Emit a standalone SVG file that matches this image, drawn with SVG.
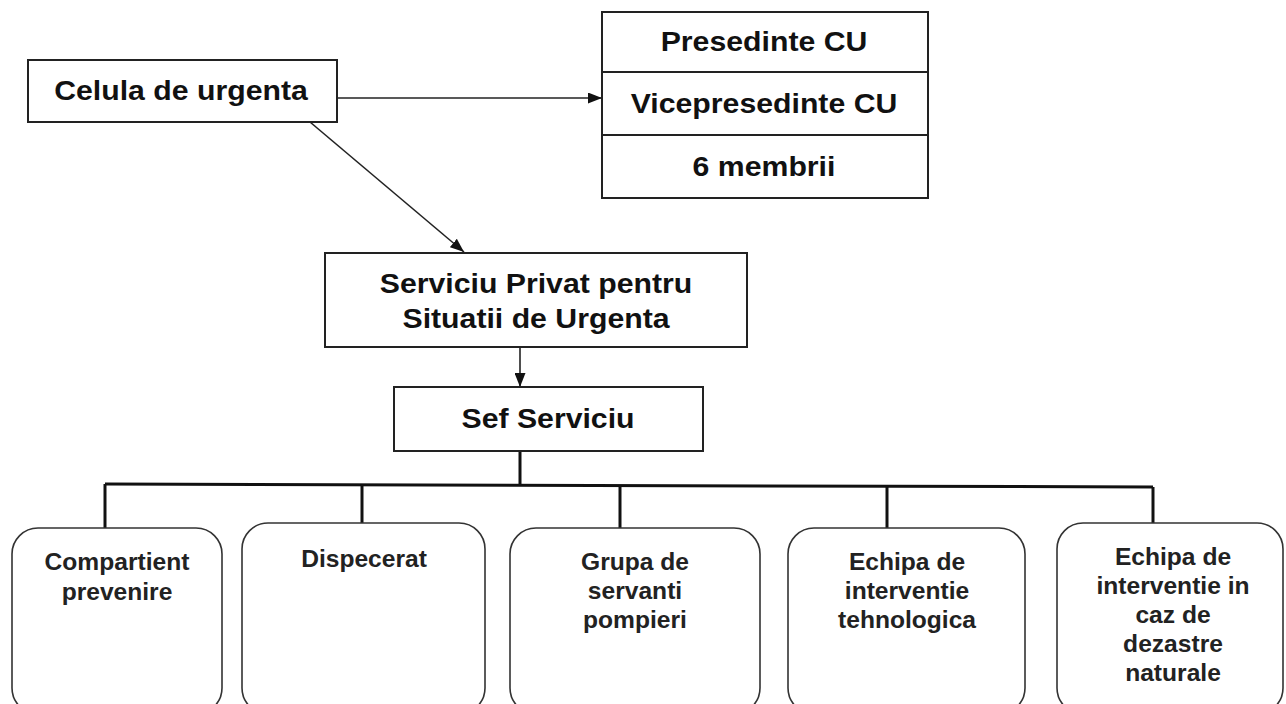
<svg xmlns="http://www.w3.org/2000/svg" width="1286" height="704" viewBox="0 0 1286 704">
<style>
.box{fill:#fff;stroke:#222;stroke-width:2}
.rbox{fill:#fff;stroke:#333;stroke-width:1.6}
.big{font-family:"Liberation Sans",Arial,sans-serif;font-weight:bold;font-size:27px;fill:#111;text-anchor:middle}
.sm{font-family:"Liberation Sans",Arial,sans-serif;font-weight:bold;font-size:23px;fill:#222;text-anchor:middle}
.ln{fill:none;stroke:#222;stroke-width:1.6}
.bus{fill:none;stroke:#111;stroke-width:3}
</style>
<defs>
<marker id="ah" viewBox="0 0 14 11" refX="14" refY="5.5" markerWidth="14" markerHeight="11" markerUnits="userSpaceOnUse" orient="auto">
<path d="M0,0 L14,5.5 L0,11 z" fill="#111"/>
</marker>
</defs>
<rect width="1286" height="704" fill="#fff"/>
<g id="connectors">
<path class="ln" d="M337,98 L602,98" marker-end="url(#ah)"/>
<path class="ln" d="M310,122 L464,252" marker-end="url(#ah)"/>
<path class="ln" d="M520,347 L520,387" marker-end="url(#ah)"/>
<path class="bus" d="M520,451 L520,485"/>
<path class="bus" d="M105,484 L1153,487"/>
<path class="bus" d="M105,484 L105,528"/>
<path class="bus" d="M362,485 L362,523"/>
<path class="bus" d="M620,485 L620,528"/>
<path class="bus" d="M887,486 L887,528"/>
<path class="bus" d="M1153,487 L1153,523"/>
</g>
<g id="celula">
<rect class="box" x="28" y="60" width="309" height="62"/>
<text class="big" transform="matrix(1.12 0 0 1 181 100)">Celula de urgenta</text>
</g>
<g id="cu">
<rect class="box" x="602" y="12" width="326" height="186"/>
<line class="ln" x1="602" y1="72" x2="928" y2="72" style="stroke-width:2"/>
<line class="ln" x1="602" y1="135" x2="928" y2="135" style="stroke-width:2"/>
<text class="big" transform="matrix(1.12 0 0 1 764 51)">Presedinte CU</text>
<text class="big" transform="matrix(1.12 0 0 1 764 113)">Vicepresedinte CU</text>
<text class="big" transform="matrix(1.12 0 0 1 764 176)">6 membrii</text>
</g>
<g id="serviciu">
<rect class="box" x="325" y="253" width="422" height="94"/>
<text class="big" transform="matrix(1.12 0 0 1 536 293)">Serviciu Privat pentru</text>
<text class="big" transform="matrix(1.12 0 0 1 536 328)">Situatii  de Urgenta</text>
</g>
<g id="sef">
<rect class="box" x="394" y="387" width="309" height="64"/>
<text class="big" transform="matrix(1.12 0 0 1 548 428)">Sef Serviciu</text>
</g>
<g id="compartient">
<rect class="rbox" x="12" y="528" width="210" height="186" rx="26"/>
<text class="sm" transform="matrix(1.07 0 0 1 117 570)">Compartient</text>
<text class="sm" transform="matrix(1.07 0 0 1 117 600)">prevenire</text>
</g>
<g id="dispecerat">
<rect class="rbox" x="242" y="523" width="243" height="191" rx="26"/>
<text class="sm" transform="matrix(1.07 0 0 1 364 567)">Dispecerat</text>
</g>
<g id="grupa">
<rect class="rbox" x="510" y="528" width="250" height="186" rx="26"/>
<text class="sm" transform="matrix(1.07 0 0 1 635 570)">Grupa de</text>
<text class="sm" transform="matrix(1.07 0 0 1 635 599)">servanti</text>
<text class="sm" transform="matrix(1.07 0 0 1 635 628)">pompieri</text>
</g>
<g id="echipa-teh">
<rect class="rbox" x="788" y="528" width="237" height="186" rx="26"/>
<text class="sm" transform="matrix(1.07 0 0 1 907 570)">Echipa de</text>
<text class="sm" transform="matrix(1.07 0 0 1 907 599)">interventie</text>
<text class="sm" transform="matrix(1.07 0 0 1 907 628)">tehnologica</text>
</g>
<g id="echipa-dez">
<rect class="rbox" x="1057" y="523" width="226" height="191" rx="26"/>
<text class="sm" transform="matrix(1.07 0 0 1 1173 565)">Echipa de</text>
<text class="sm" transform="matrix(1.07 0 0 1 1173 594)">interventie  in</text>
<text class="sm" transform="matrix(1.07 0 0 1 1173 623)">caz de</text>
<text class="sm" transform="matrix(1.07 0 0 1 1173 652)">dezastre</text>
<text class="sm" transform="matrix(1.07 0 0 1 1173 681)">naturale</text>
</g>
</svg>
